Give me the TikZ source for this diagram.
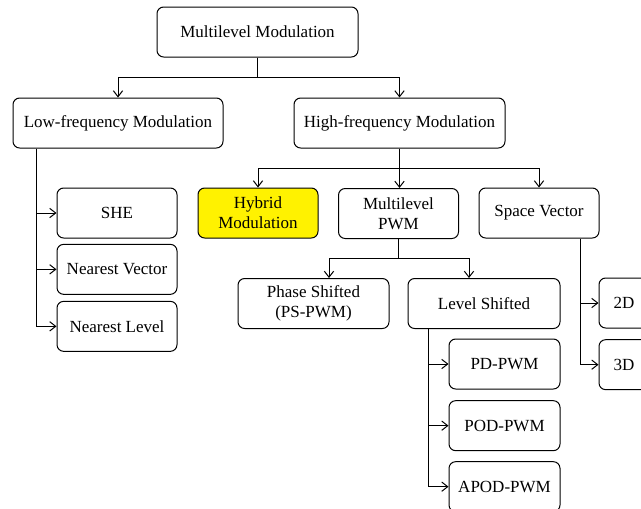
\documentclass[tikz,border=0pt]{standalone}
\usepackage{fontspec}
\setmainfont{Liberation Serif}
\usetikzlibrary{positioning,calc,arrows.meta}

\begin{document}
\begin{tikzpicture}[x=0.75pt,y=-0.75pt,line width=0.75pt,
  >={Straight Barb[length=4.5pt,width=7pt]},
  box/.style={draw,rounded corners=5pt,minimum width=90pt,minimum height=37.5pt,
    align=center,inner sep=1pt,font=\fontsize{12.75}{15}\selectfont}]
\clip (0,0) rectangle (641,508);
% top levels
\node [box,minimum width=150.75pt] (MM) at (257.5,32) {Multilevel Modulation};
\node [box,minimum width=157.5pt] (LF) at (118,123) {Low-frequency Modulation};
\node [box,minimum width=158.25pt] (HF) at (399.5,123) {High-frequency Modulation};
% low-frequency branch
\node [box] (SHE) at (117,213) {SHE};
\node [box,below=4pt of SHE] (NV) {Nearest Vector};
\node [box,below=4.5pt of NV] (NL) {Nearest Level};
% high-frequency branch
\node [box,fill=yellow] (Hyb) at (258,213) {Hybrid\\Modulation};
\node [box] (MPWM) at (398.5,213.5) {Multilevel\\PWM};
\node [box] (SV) at (539,213) {Space Vector};
\node [box,minimum width=113.25pt] (PS) at (313.5,303.5) {Phase Shifted\\(PS-PWM)};
\node [box,minimum width=114pt] (LS) at (484,303.5) {Level Shifted};
\node [box,minimum width=83.25pt] (PD) at (504.5,364) {PD-PWM};
\node [box,minimum width=83.25pt,below=8pt of PD] (POD) {POD-PWM};
\node [box,minimum width=83.25pt,below=7.5pt of POD] (APOD) {APOD-PWM};
\node [box,minimum width=37.5pt] (SVtwo) at (624,303) {2D};
\node [box,minimum width=37.5pt,below=8pt of SVtwo] (SVthree) {3D};

\draw [->] (MM.south) -- ++(0,20) -| (LF.north);
\draw [->] (MM.south) -- ++(0,20) -| (HF.north);
\draw [->] (HF.south) -- ++(0,20) -| (Hyb.north);
\draw [->] (HF.south) -- (HF.south |- MPWM.north);
\draw [->] (HF.south) -- ++(0,20) -| (SV.north);
\coordinate (lfbus) at ($(LF.south west)+(24,0)$);
\foreach \n in {SHE,NV,NL}
  \draw [->] (lfbus) |- (\n.west);
\draw [->] (MPWM.south) -- ++(0,19) -| ($(PS.north)+(15.5,0)$);
\draw [->] (MPWM.south) -- ++(0,19) -| ($(LS.north)+(-15,0)$);
\coordinate (lsbus) at ($(LS.south west)+(21,0)$);
\foreach \n in {PD,POD,APOD}
  \draw [->] (lsbus) |- (\n.west);
\coordinate (svbus) at ($(SV.south east)+(-19,0)$);
\foreach \n in {SVtwo,SVthree}
  \draw [->] (svbus) |- (\n.west);
\end{tikzpicture}
\end{document}
